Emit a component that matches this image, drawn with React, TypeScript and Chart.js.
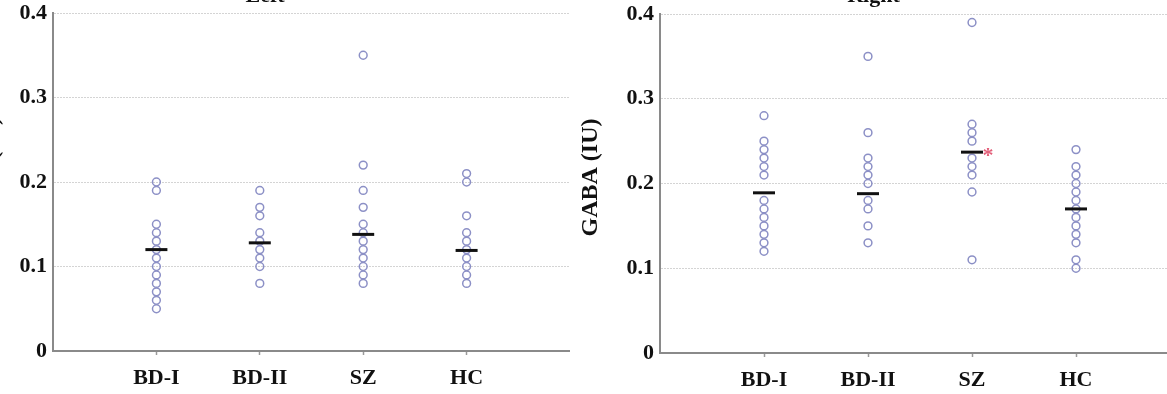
import React, { useEffect, useRef } from 'react';
import { Chart, registerables } from 'chart.js';

Chart.register(...registerables);

// Group names along the x axis (placed at positions 1..4)
const categories = ['BD-I', 'BD-II', 'SZ', 'HC'];
const yTickValues = [0, 0.1, 0.2, 0.3, 0.4];

// Left hemisphere GABA values per group
const leftBD1 = [0.2, 0.19, 0.15, 0.14, 0.13, 0.12, 0.11, 0.1, 0.09, 0.08, 0.07, 0.06, 0.05];
const leftBD2 = [0.19, 0.17, 0.16, 0.14, 0.13, 0.12, 0.11, 0.1, 0.08];
const leftSZ = [0.35, 0.22, 0.19, 0.17, 0.15, 0.14, 0.13, 0.12, 0.11, 0.1, 0.09, 0.08];
const leftHC = [0.21, 0.2, 0.16, 0.14, 0.13, 0.12, 0.11, 0.1, 0.09, 0.08];
const leftMeans = [0.12, 0.128, 0.138, 0.119];

// Right hemisphere GABA values per group
const rightBD1 = [0.28, 0.25, 0.24, 0.23, 0.22, 0.21, 0.18, 0.17, 0.16, 0.15, 0.14, 0.13, 0.12];
const rightBD2 = [0.35, 0.26, 0.23, 0.22, 0.21, 0.2, 0.18, 0.17, 0.15, 0.13];
const rightSZ = [0.39, 0.27, 0.26, 0.25, 0.23, 0.22, 0.21, 0.19, 0.11];
const rightHC = [0.24, 0.22, 0.21, 0.2, 0.19, 0.18, 0.17, 0.16, 0.15, 0.14, 0.13, 0.11, 0.1];
const rightMeans = [0.189, 0.188, 0.237, 0.17];
const rightSignificant = ['SZ'];

const FONT = "'Liberation Serif', 'Times New Roman', serif";
const CIRCLE = '#8c90c6';
const AXIS = '#8a8a8a';
const GRID = '#d4d4d4';
const MEAN_HALF = 11;

type Panel = {
  title: string;
  groups: number[][];
  means: number[];
  significant: string[];
  titlePadTop: number;
  titlePadBottom: number;
  yTitlePad: number;
  xAxisHeight: number;
};

function makeChart(canvas: HTMLCanvasElement, p: Panel) {
  const points: { x: number; y: number }[] = [];
  p.groups.forEach((vals, i) => vals.forEach((v) => points.push({ x: i + 1, y: v })));
  const meanPts = p.means.map((m, i) => ({ x: i + 1, y: m }));

  // red asterisk to the right of a group's mean bar
  const starPlugin = {
    id: 'sigStar',
    afterDatasetsDraw(chart: any) {
      const xs = chart.scales.x;
      const ys = chart.scales.y;
      const ctx = chart.ctx;
      ctx.save();
      ctx.fillStyle = '#e3607a';
      ctx.font = `bold 22px ${FONT}`;
      ctx.textAlign = 'center';
      ctx.textBaseline = 'alphabetic';
      p.significant.forEach((name) => {
        const i = categories.indexOf(name);
        const px = xs.getPixelForValue(i + 1) + MEAN_HALF + 5;
        const py = ys.getPixelForValue(p.means[i]);
        ctx.fillText('*', px, py + 10);
      });
      ctx.restore();
    },
  };

  return new Chart(canvas, {
    type: 'scatter',
    data: {
      datasets: [
        {
          data: meanPts,
          pointStyle: 'line',
          pointRadius: MEAN_HALF,
          borderColor: '#111',
          backgroundColor: '#111',
          pointBorderWidth: 3,
          borderWidth: 3,
        },
        {
          data: points,
          pointStyle: 'circle',
          pointRadius: 3.9,
          pointBorderWidth: 1.5,
          borderColor: CIRCLE,
          backgroundColor: 'rgba(0,0,0,0)',
        },
      ],
    },
    options: {
      responsive: false,
      animation: false,
      devicePixelRatio: 1,
      events: [],
      layout: { padding: 0, autoPadding: false },
      plugins: {
        legend: { display: false },
        tooltip: { enabled: false },
        title: {
          display: true,
          text: p.title,
          color: '#111',
          font: { family: FONT, size: 22, weight: 'bold' },
          padding: { top: p.titlePadTop, bottom: p.titlePadBottom },
        },
      },
      scales: {
        x: {
          type: 'linear',
          min: 0,
          max: 5,
          afterFit: (s: any) => {
            s.height = p.xAxisHeight;
            s.paddingLeft = 0;
            s.paddingRight = 0;
          },
          afterBuildTicks: (s: any) => {
            s.ticks = [0, 1, 2, 3, 4, 5].map((v) => ({ value: v }));
          },
          ticks: {
            autoSkip: false,
            maxRotation: 0,
            padding: 10,
            color: '#111',
            font: { family: FONT, size: 22, weight: 'bold' },
            callback: (v: any) => categories[Number(v) - 1] ?? '',
          },
          grid: {
            drawOnChartArea: false,
            drawTicks: true,
            tickLength: 4,
            tickWidth: 1.5,
            tickColor: (c: any) => (c.tick && c.tick.value >= 1 && c.tick.value <= 4 ? '#999' : 'rgba(0,0,0,0)'),
          },
          border: { display: true, color: AXIS, width: 2 },
        },
        y: {
          min: 0,
          max: 0.4,
          afterFit: (s: any) => {
            s.width = 93;
          },
          afterBuildTicks: (s: any) => {
            s.ticks = yTickValues.map((v) => ({ value: v }));
          },
          ticks: {
            padding: 6,
            color: '#111',
            font: { family: FONT, size: 22, weight: 'bold' },
            callback: (v: any) => (Number(v) === 0 ? '0' : Number(v).toFixed(1)),
          },
          grid: {
            drawTicks: false,
            color: GRID,
            lineWidth: 1,
          },
          border: { display: true, color: AXIS, width: 2, dash: [2, 1] },
          title: {
            display: true,
            text: '  GABA (IU)',
            color: '#111',
            font: { family: FONT, size: 24, weight: 'bold' },
            padding: { top: p.yTitlePad, bottom: 0 },
          },
        },
      },
    },
    plugins: [starPlugin],
  } as any);
}

export default function App() {
  const leftRef = useRef<HTMLCanvasElement>(null);
  const rightRef = useRef<HTMLCanvasElement>(null);

  useEffect(() => {
    const left = makeChart(leftRef.current!, {
      title: 'Left',
      groups: [leftBD1, leftBD2, leftSZ, leftHC],
      means: leftMeans,
      significant: [],
      titlePadTop: 13.3,
      titlePadBottom: 3.3,
      yTitlePad: 17.6,
      xAxisHeight: 60,
    });
    const right = makeChart(rightRef.current!, {
      title: 'Right',
      groups: [rightBD1, rightBD2, rightSZ, rightHC],
      means: rightMeans,
      significant: rightSignificant,
      titlePadTop: 13.3,
      titlePadBottom: 4.3,
      yTitlePad: 9.6,
      xAxisHeight: 60,
    });
    return () => {
      left.destroy();
      right.destroy();
    };
  }, []);

  return (
    <div
      style={{
        position: 'fixed',
        left: 0,
        top: 0,
        width: 1167,
        height: 394,
        overflow: 'hidden',
        background: '#fff',
      }}
    >
      <canvas
        ref={leftRef}
        width={610}
        height={441}
        style={{ position: 'absolute', left: -40, top: -30, width: 610, height: 441 }}
      />
      <canvas
        ref={rightRef}
        width={613}
        height={443}
        style={{ position: 'absolute', left: 567, top: -30, width: 613, height: 443 }}
      />
    </div>
  );
}
